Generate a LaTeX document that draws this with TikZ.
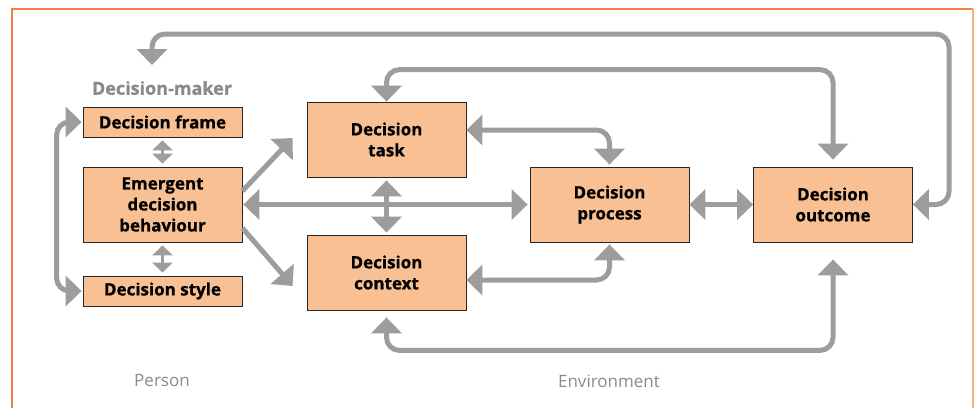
\documentclass[tikz,border=0pt]{standalone}
\usepackage{fontspec}
\setmainfont{Open Sans}[BoldFeatures={FakeBold=0.8}]
\usetikzlibrary{arrows.meta}
\definecolor{boxfill}{HTML}{F9C193}
\definecolor{arrowgrey}{HTML}{9D9D9D}
\definecolor{framec}{HTML}{EF8040}
\definecolor{framer}{HTML}{F6AE80}
\definecolor{labelgrey}{HTML}{8A8A8A}
\begin{document}
\begin{tikzpicture}[x=1pt,y=-1pt,
 box/.style={draw=black!85, line width=0.8pt, fill=boxfill, inner sep=0pt, minimum width=159pt, align=center, font=\fontsize{17}{21}\selectfont\bfseries},
 tallbox/.style={box, minimum height=75pt},
 flatbox/.style={box, minimum height=30pt},
 conn/.style={draw=arrowgrey, line width=5pt, rounded corners=13pt},
 bia/.style={conn, {Triangle[width=30pt,length=16pt]}-{Triangle[width=30pt,length=16pt]}},
 onea/.style={conn, -{Triangle[width=30pt,length=16pt]}},
 smallbia/.style={draw=arrowgrey, line width=3pt, {Triangle[width=20pt,length=10pt]}-{Triangle[width=20pt,length=10pt]}},
 grouplabel/.style={text=labelgrey, font=\fontsize{18}{22}\selectfont\bfseries},
 arealabel/.style={text=labelgrey, font=\fontsize{17}{21}\selectfont}
]
\useasboundingbox (0,0) rectangle (978,408);
% frame
\draw[framec, line width=1.5pt] (12,408) -- (12,9) -- (973,9);
\draw[framer, line width=1.5pt] (973,9) -- (973,408);

% boxes
\node[flatbox] (frame) at (162.5,122) {Decision frame};
\node[tallbox] (emergent) at (162.5,204.5) {Emergent\\decision\\behaviour};
\node[flatbox] (style) at (162.5,291) {Decision style};
\node[tallbox] (task) at (386.5,139.5) {Decision\\task};
\node[tallbox] (context) at (386.5,272.5) {Decision\\context};
\node[tallbox] (process) at (609.5,204.5) {Decision\\process};
\node[tallbox] (outcome) at (833,204.5) {Decision\\outcome};

% labels
\node[grouplabel] (dm) at (162,88) {Decision-maker};
\node[arealabel] (person) at (162,381) {Person};
\node[arealabel] (env) at (609,381) {Environment};

\coordinate (tr) at (949,34);
\coordinate (dmtip) at (152,65);

% connectors
\draw[bia] (outcome.east) -| (tr) -| (dmtip);
\draw[bia] ([yshift=7pt]outcome.north) |- ([yshift=32pt]task.north) -- (task.north);
\draw[bia] ([yshift=9.5pt]task.east) -| ([yshift=2pt]process.north);
\draw[bia] ([yshift=-7.5pt]context.east) -| ([yshift=-2pt]process.south);
\draw[bia] (process.east) -- (outcome.west);
\draw[bia] ([yshift=-17pt]outcome.south) |- ([yshift=-40pt]context.south) -- ([yshift=-7pt]context.south);
\draw[bia] ([xshift=1pt]emergent.east) -- ([xshift=-2pt]process.west);
\draw[bia] ([yshift=-3pt]task.south) -- ([yshift=2pt]context.north);
\draw[onea] ([yshift=13.5pt]emergent.east) -- ([xshift=-14pt,yshift=1.5pt]task.west);
\draw[onea] ([yshift=-23.5pt]emergent.east) -- ([xshift=-14pt,yshift=-13.5pt]context.west);
\draw[smallbia] ([yshift=-3pt]frame.south) -- ([yshift=3pt]emergent.north);
\draw[smallbia] ([yshift=-3pt]emergent.south) -- ([yshift=3pt]style.north);
\draw[bia] ([xshift=-1pt]frame.west) -| ([xshift=-26pt]style.west) -- ([xshift=-1pt]style.west);
\end{tikzpicture}
\end{document}
